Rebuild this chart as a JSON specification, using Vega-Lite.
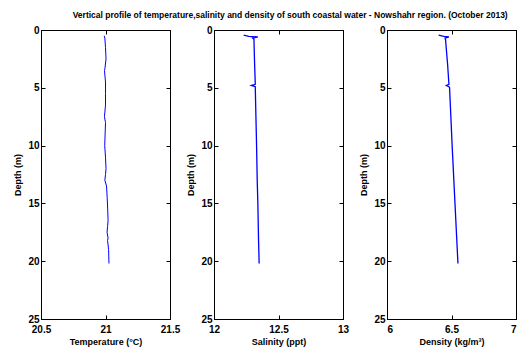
{
  "$schema": "https://vega.github.io/schema/vega-lite/v6.json",
  "padding": {"left": 13, "top": 11, "right": 0, "bottom": 0},
  "background": "white",
  "title": {"text": "Vertical profile of temperature,salinity and density of south coastal water - Nowshahr region. (October 2013)", "fontSize": 8.5, "font": "Liberation Sans", "fontWeight": "bold", "anchor": "middle", "color": "black", "offset": 5, "dx": 25},
  "datasets": {
    "temp": [
      {"depth": 0.5, "temperature": 20.99},
      {"depth": 0.7, "temperature": 20.995},
      {"depth": 1.5, "temperature": 21.0},
      {"depth": 2.5, "temperature": 21.004},
      {"depth": 3.3, "temperature": 20.996},
      {"depth": 3.5, "temperature": 20.992},
      {"depth": 4.5, "temperature": 21.0},
      {"depth": 5.5, "temperature": 21.0},
      {"depth": 6.5, "temperature": 21.0},
      {"depth": 7.5, "temperature": 20.992},
      {"depth": 8.0, "temperature": 21.0},
      {"depth": 9.0, "temperature": 20.997},
      {"depth": 10.0, "temperature": 20.994},
      {"depth": 11.0, "temperature": 21.0},
      {"depth": 12.0, "temperature": 21.004},
      {"depth": 12.5, "temperature": 21.0},
      {"depth": 13.0, "temperature": 20.995},
      {"depth": 13.5, "temperature": 21.008},
      {"depth": 14.5, "temperature": 21.013},
      {"depth": 15.5, "temperature": 21.017},
      {"depth": 16.5, "temperature": 21.02},
      {"depth": 17.0, "temperature": 21.016},
      {"depth": 17.5, "temperature": 21.012},
      {"depth": 18.0, "temperature": 21.02},
      {"depth": 18.2, "temperature": 21.016},
      {"depth": 19.0, "temperature": 21.024},
      {"depth": 20.2, "temperature": 21.027}
    ],
    "sal": [
      {"depth": 0.45, "salinity": 12.23},
      {"depth": 0.55, "salinity": 12.27},
      {"depth": 0.6, "salinity": 12.34},
      {"depth": 0.7, "salinity": 12.3},
      {"depth": 0.8, "salinity": 12.31},
      {"depth": 1.0, "salinity": 12.31},
      {"depth": 3.0, "salinity": 12.315},
      {"depth": 4.7, "salinity": 12.32},
      {"depth": 4.8, "salinity": 12.29},
      {"depth": 4.9, "salinity": 12.32},
      {"depth": 5.0, "salinity": 12.32},
      {"depth": 7.5, "salinity": 12.325},
      {"depth": 10.0, "salinity": 12.33},
      {"depth": 13.0, "salinity": 12.335},
      {"depth": 15.0, "salinity": 12.34},
      {"depth": 18.0, "salinity": 12.345},
      {"depth": 20.2, "salinity": 12.35}
    ],
    "dens": [
      {"depth": 0.45, "density": 6.40},
      {"depth": 0.55, "density": 6.44},
      {"depth": 0.6, "density": 6.48},
      {"depth": 0.7, "density": 6.45},
      {"depth": 0.9, "density": 6.455},
      {"depth": 1.0, "density": 6.455},
      {"depth": 3.0, "density": 6.47},
      {"depth": 4.7, "density": 6.48},
      {"depth": 4.8, "density": 6.46},
      {"depth": 4.9, "density": 6.48},
      {"depth": 5.0, "density": 6.485},
      {"depth": 10.0, "density": 6.505},
      {"depth": 15.0, "density": 6.527},
      {"depth": 20.2, "density": 6.55}
    ]
  },
  "spacing": 44,
  "bounds": "flush",
  "hconcat": [
    {
      "width": 129, "height": 289,
      "data": {"name": "temp"},
      "layer": [
        {"mark": {"type": "line", "color": "#0000ff", "strokeWidth": 1},
         "encoding": {
           "x": {"field": "temperature", "type": "quantitative", "scale": {"domain": [20.5, 21.5]}, "axis": {"values": [20.5, 21, 21.5], "format": ".1~f", "title": "Temperature (°C)"}},
           "y": {"field": "depth", "type": "quantitative", "scale": {"domain": [0, 25], "reverse": true}, "axis": {"values": [0, 5, 10, 15, 20, 25], "title": "Depth (m)"}},
           "order": {"field": "depth"}
         }},
        {"mark": {"type": "line", "strokeOpacity": 0},
         "encoding": {
           "x": {"field": "temperature", "type": "quantitative", "scale": {"domain": [20.5, 21.5]}, "axis": {"orient": "top", "values": [20.5, 21, 21.5], "labels": false, "title": null}},
           "y": {"field": "depth", "type": "quantitative", "scale": {"domain": [0, 25], "reverse": true}, "axis": {"orient": "right", "values": [0, 5, 10, 15, 20, 25], "labels": false, "title": null}},
           "order": {"field": "depth"}
         }}
      ],
      "resolve": {"axis": {"x": "independent", "y": "independent"}}
    },
    {
      "width": 129, "height": 289,
      "data": {"name": "sal"},
      "layer": [
        {"mark": {"type": "line", "color": "#0000ff", "strokeWidth": 1.3},
         "encoding": {
           "x": {"field": "salinity", "type": "quantitative", "scale": {"domain": [12, 13]}, "axis": {"values": [12, 12.5, 13], "format": ".1~f", "title": "Salinity (ppt)"}},
           "y": {"field": "depth", "type": "quantitative", "scale": {"domain": [0, 25], "reverse": true}, "axis": {"values": [0, 5, 10, 15, 20, 25], "title": "Depth (m)"}},
           "order": {"field": "depth"}
         }},
        {"mark": {"type": "line", "strokeOpacity": 0},
         "encoding": {
           "x": {"field": "salinity", "type": "quantitative", "scale": {"domain": [12, 13]}, "axis": {"orient": "top", "values": [12, 12.5, 13], "labels": false, "title": null}},
           "y": {"field": "depth", "type": "quantitative", "scale": {"domain": [0, 25], "reverse": true}, "axis": {"orient": "right", "values": [0, 5, 10, 15, 20, 25], "labels": false, "title": null}},
           "order": {"field": "depth"}
         }}
      ],
      "resolve": {"axis": {"x": "independent", "y": "independent"}}
    },
    {
      "width": 129, "height": 289,
      "data": {"name": "dens"},
      "layer": [
        {"mark": {"type": "line", "color": "#0000ff", "strokeWidth": 1.3},
         "encoding": {
           "x": {"field": "density", "type": "quantitative", "scale": {"domain": [6, 7]}, "axis": {"values": [6, 6.5, 7], "format": ".1~f", "labelFlush": true, "title": "Density (kg/m³)"}},
           "y": {"field": "depth", "type": "quantitative", "scale": {"domain": [0, 25], "reverse": true}, "axis": {"values": [0, 5, 10, 15, 20, 25], "title": "Depth (m)"}},
           "order": {"field": "depth"}
         }},
        {"mark": {"type": "line", "strokeOpacity": 0},
         "encoding": {
           "x": {"field": "density", "type": "quantitative", "scale": {"domain": [6, 7]}, "axis": {"orient": "top", "values": [6, 6.5, 7], "labels": false, "title": null}},
           "y": {"field": "depth", "type": "quantitative", "scale": {"domain": [0, 25], "reverse": true}, "axis": {"orient": "right", "values": [0, 5, 10, 15, 20, 25], "labels": false, "title": null}},
           "order": {"field": "depth"}
         }}
      ],
      "resolve": {"axis": {"x": "independent", "y": "independent"}}
    }
  ],
  "config": {
    "view": {"stroke": "black", "strokeWidth": 1},
    "axis": {
      "grid": false,
      "domainColor": "black",
      "domainWidth": 1,
      "tickColor": "black",
      "tickSize": -4,
      "tickWidth": 1,
      "labelFont": "Liberation Sans",
      "labelFontWeight": "bold",
      "labelFontSize": 10,
      "labelColor": "black",
      "labelPadding": 6,
      "titleFont": "Liberation Sans",
      "titleFontSize": 9,
      "titleFontWeight": "bold",
      "titleColor": "black"
    },
    "axisX": {"labelFlush": false, "labelPadding": 9, "titlePadding": 3},
    "axisY": {"titlePadding": 5}
  }
}
